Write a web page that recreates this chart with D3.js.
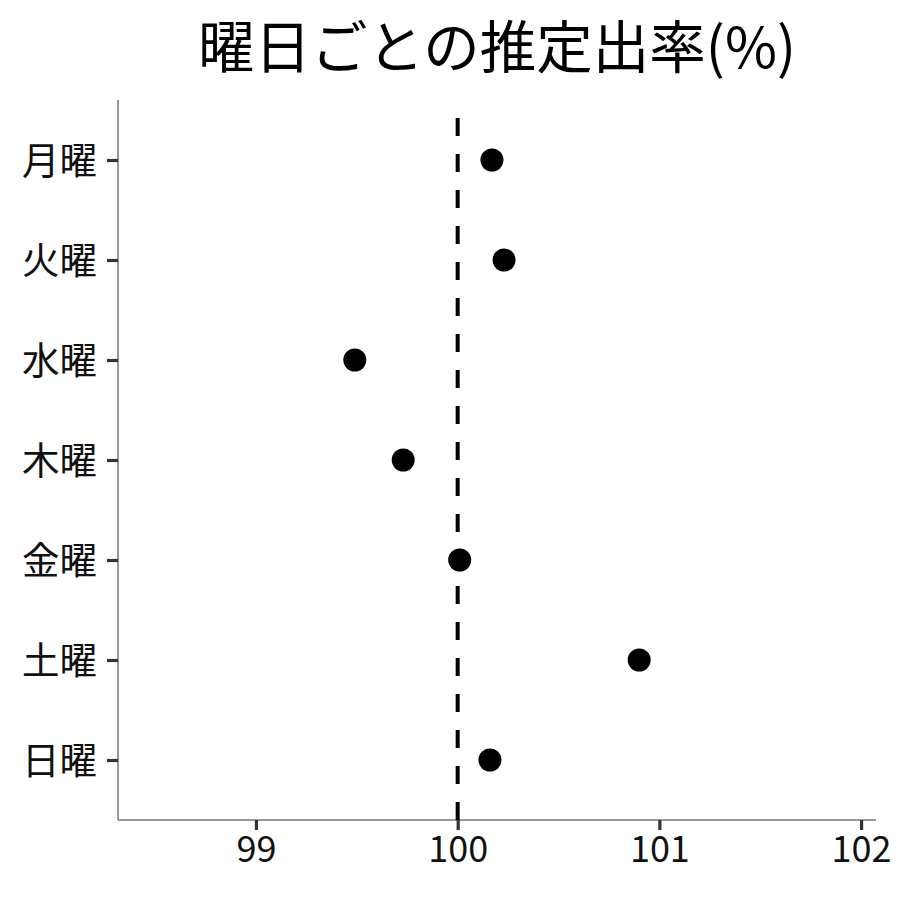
<!DOCTYPE html>
<html>
  <head>
    <meta charset="utf-8">
    <title>曜日ごとの推定出率</title>
    <script src="https://d3js.org/d3.v7.min.js"></script>
    <style>
      body { margin: 0; background: #fff; }
      text { font-family: "Noto Sans CJK JP", "Noto Sans", sans-serif; }
    </style>
  </head>
  <body>
    <div id="chart"></div>
    <script>
      // data
      const days = ['月曜', '火曜', '水曜', '木曜', '金曜', '土曜', '日曜'];
      const rates = [100.17, 100.23, 99.49, 99.73, 100.01, 100.90, 100.16];
      const xTicks = [99, 100, 101, 102];
      const refValue = 100;

      const width = 900, height = 900;
      const margin = { top: 100, right: 24, bottom: 80, left: 118 };
      const innerW = width - margin.left - margin.right;
      const innerH = height - margin.top - margin.bottom;

      const chartData = days.map((d, i) => ({ day: d, rate: rates[i] }));

      const x = d3.scaleLinear()
        .domain([98.316, 102.074])
        .range([0, innerW]);

      // discrete axis with 0.6 units of padding each side
      const y = d3.scalePoint()
        .domain(days)
        .range([0, innerH])
        .padding(0.6);

      const svg = d3.select('#chart')
        .append('svg')
        .attr('width', width)
        .attr('height', height);

      const g = svg.append('g')
        .attr('transform', 'translate(' + margin.left + ',' + margin.top + ')');

      // title
      svg.append('text')
        .attr('x', margin.left + innerW / 2)
        .attr('y', 43)
        .attr('text-anchor', 'middle')
        .attr('dominant-baseline', 'central')
        .style('font-size', '56.5px')
        .attr('fill', '#000')
        .text('曜日ごとの推定出率(%)');

      // x axis
      const xAxis = g.append('g')
        .attr('transform', 'translate(0,' + innerH + ')')
        .call(d3.axisBottom(x).tickValues(xTicks).tickSize(10).tickPadding(6).tickFormat(d3.format('d')));
      xAxis.select('.domain').attr('stroke', '#777').attr('stroke-width', 1.5)
        .attr('d', 'M0,0H' + innerW);
      xAxis.selectAll('.tick line').attr('stroke', '#333').attr('stroke-width', 3.2);
      xAxis.selectAll('.tick text').style('font-size', '36px').attr('fill', '#111');

      // y axis
      const yAxis = g.append('g')
        .call(d3.axisLeft(y).tickSize(11).tickPadding(10));
      yAxis.select('.domain').attr('stroke', '#777').attr('stroke-width', 1.5)
        .attr('d', 'M0,0V' + innerH);
      yAxis.selectAll('.tick line').attr('stroke', '#333').attr('stroke-width', 3.2);
      yAxis.selectAll('.tick text').style('font-size', '37.5px').attr('fill', '#111')
        .attr('dy', '0.35em');

      // reference line
      g.append('line')
        .attr('x1', x(refValue))
        .attr('x2', x(refValue))
        .attr('y1', innerH)
        .attr('y2', 0)
        .attr('stroke', '#000')
        .attr('stroke-width', 4)
        .attr('stroke-dasharray', '18,18');

      // points
      g.selectAll('.pt')
        .data(chartData)
        .enter()
        .append('circle')
        .attr('class', 'pt')
        .attr('cx', d => x(d.rate))
        .attr('cy', d => y(d.day))
        .attr('r', 11.5)
        .attr('fill', '#000');
    </script>
  </body>
</html>
